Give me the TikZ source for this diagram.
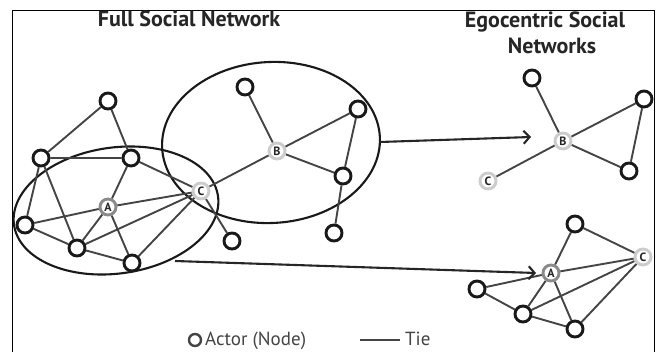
\documentclass[tikz,border=0pt]{standalone}
\usepackage{fontspec}
\setmainfont{PT Sans}
\usetikzlibrary{arrows.meta,backgrounds}
\definecolor{tiegray}{HTML}{444444}
\definecolor{agray}{HTML}{8A8A8A}
\definecolor{lgray}{HTML}{CCCCCC}
\tikzset{
  actor/.style={circle, draw=black!90, fill=white, line width=2.9pt, minimum size=16pt, inner sep=0pt},
  ego/.style={circle, fill=white, line width=2.9pt, minimum size=16pt, inner sep=0pt, font=\fontsize{12}{12}\selectfont\bfseries, text=black!85},
  egoA/.style={ego, draw=agray},
  egoBC/.style={ego, draw=lgray},
  tie/.style={draw=tiegray, line width=1.9pt},
  hull/.style={draw=black!90, line width=2.1pt},
  flow/.style={draw=black!85, line width=2.1pt, -{Straight Barb[length=6pt,width=13pt,line width=2.1pt]}},
  title/.style={font=\fontsize{22}{22}\selectfont\bfseries, text=black!85, anchor=base, inner sep=0pt},
  legend/.style={font=\fontsize{19}{19}\selectfont, text=tiegray, anchor=base west, inner sep=0pt}
}
\begin{document}
\begin{tikzpicture}[x=1pt,y=-1pt]
\useasboundingbox (0,0) rectangle (659,352);
% frame
\draw[black, line width=1pt] (12,352) -- (12,10.5) -- (654,10.5) -- (654,352);
% titles
\node[title] (t1) at (189,27) {Full Social Network};
\node[title] (t2a) at (545,27.5) {Egocentric Social};
\node[title] (t2b) at (552,53.5) {Networks};
% full network nodes
\node[actor] (n1) at (108,101) {};
\node[actor] (n2) at (41,158) {};
\node[actor] (n3) at (131,158) {};
\node[egoA]  (A)  at (108,207) {A};
\node[egoBC] (C)  at (201,191) {C};
\node[actor] (n4) at (25,225) {};
\node[actor] (n5) at (77,248) {};
\node[actor] (n6) at (132,263) {};
\node[actor] (n7) at (232,241) {};
\node[actor] (b1) at (245,87) {};
\node[egoBC] (B)  at (277,151) {B};
\node[actor] (b2) at (358,109) {};
\node[actor] (b3) at (343,176) {};
\node[actor] (b4) at (334,233) {};
% ego B
\node[actor] (eb1) at (532,78) {};
\node[egoBC] (eB) at (563,141) {B};
\node[actor] (eb2) at (644,99) {};
\node[actor] (eb3) at (629,171) {};
\node[egoBC] (eC) at (488,181) {C};
% ego A
\node[actor] (ea3) at (575,224) {};
\node[egoBC] (eaC) at (643,257) {C};
\node[egoA] (eA) at (551,273) {A};
\node[actor] (ea4) at (477,289) {};
\node[actor] (ea5) at (523,314) {};
\node[actor] (ea6) at (575,329) {};
% arrow endpoints
\coordinate (s1) at (380,142);
\coordinate (e1) at (531,137);
\coordinate (s2) at (175,261);
\coordinate (e2) at (536,273);
\begin{scope}[on background layer]
  \draw[hull, rotate around={8:(116,210.5)}] (116,210.5) ellipse [x radius=103, y radius=63];
  \draw[hull, rotate around={3:(271,142.5)}] (271,142.5) ellipse [x radius=109, y radius=80.5];
  \path[tie] (n1)--(n2) (n1)--(n3) (n2)--(n3) (n2)--(n4) (n2)--(n5)
    (n3)--(A) (n3)--(C) (A)--(C) (A)--(n4) (A)--(n5) (A)--(n6)
    (n4)--(n5) (n5)--(C) (n5)--(n6) (n6)--(C) (C)--(n7) (C)--(B)
    (B)--(b1) (B)--(b2) (B)--(b3) (b2)--(b3) (b3)--(b4);
  \path[tie] (eb1)--(eB) (eB)--(eb2) (eB)--(eb3) (eb2)--(eb3) (eB)--(eC);
  \path[tie] (ea3)--(eA) (ea3)--(eaC) (eA)--(eaC) (eA)--(ea4) (eA)--(ea5) (eA)--(ea6)
    (ea4)--(ea5) (ea5)--(eaC) (ea5)--(ea6) (ea6)--(eaC);
\end{scope}
\draw[flow] (s1) -- (e1);
\draw[flow] (s2) -- (e2);
% legend
\node[circle, draw=tiegray, line width=2.4pt, minimum size=12pt, inner sep=0pt] (lc) at (195,340) {};
\node[legend] (lt1) at (205,346) {Actor (Node)};
\coordinate (la) at (360,340);
\coordinate (lb) at (400,340);
\draw[tie, line width=2pt] (la) -- (lb);
\node[legend] (lt2) at (405,346) {Tie};
\end{tikzpicture}
\end{document}
